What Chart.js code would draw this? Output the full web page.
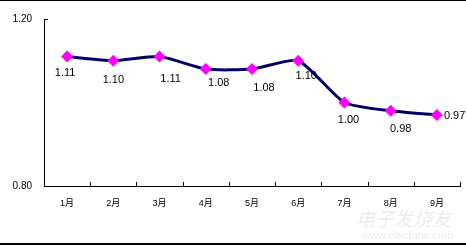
<!DOCTYPE html>
<html>
<head>
<meta charset="utf-8">
<script src="https://cdn.jsdelivr.net/npm/chart.js@4/dist/chart.umd.min.js"></script>
<style>
  html, body { margin: 0; padding: 0; background: #fff; overflow: hidden; }
  #wrap { position: relative; width: 466px; height: 245px; }
  #wrap canvas { position: absolute; left: 0; top: 0; }
  .rule { position: absolute; left: 0; width: 466px; height: 1px; background: #000; }
  .mark { position: absolute; left: 356px; top: 204px; color: #ececec; font: italic 19px 'Noto Sans CJK SC', sans-serif; }
  .mark2 { position: absolute; left: 362px; top: 229px; color: #ececec; font: 11px 'Liberation Sans', sans-serif; }
</style>
</head>
<body>
<div id="wrap">
  <canvas id="c" width="466" height="245"></canvas>
  <div class="mark">电子发烧友</div>
  <div class="mark2">www.elecfans.com</div>
  <div class="rule" style="top:0"></div>
  <div class="rule" style="top:243px;height:1.5px"></div>
</div>
<script>
const months = ['1月', '2月', '3月', '4月', '5月', '6月', '7月', '8月', '9月'];
const values = [1.11, 1.10, 1.11, 1.08, 1.08, 1.10, 1.00, 0.98, 0.97];
const yTicks = [0.80, 1.20];

// where each value label sits relative to its marker (Excel's placement)
const labelDx = [-2, 0, 11, 13, 12, 8, 4, 10, null];
const labelDy = [16, 19, 22, 14, 19, 15, 17, 18, null];

const NUM_FONT = "'Liberation Sans', Arial, sans-serif";

const innerTicks = {
  id: 'innerTicks',
  beforeDatasetsDraw(chart) {
    const { ctx, chartArea, scales: { x, y } } = chart;
    ctx.save();
    ctx.strokeStyle = '#000';
    ctx.lineWidth = 1;
    ctx.beginPath();
    const yt = Math.round(y.getPixelForValue(yTicks[1])) + 0.5;
    ctx.moveTo(chartArea.left, yt);
    ctx.lineTo(chartArea.left + 4, yt);
    for (let i = 1; i <= months.length; i++) {
      const bx = i < months.length
        ? (x.getPixelForValue(i - 1) + x.getPixelForValue(i)) / 2
        : chartArea.right;
      const px = Math.round(bx) + 0.5;
      ctx.moveTo(px, chartArea.bottom);
      ctx.lineTo(px, chartArea.bottom - 4);
    }
    ctx.stroke();

    // value labels, drawn before the line so the line passes over them
    ctx.fillStyle = '#000';
    ctx.font = '11px ' + NUM_FONT;
    ctx.textBaseline = 'middle';
    const meta = chart.getDatasetMeta(0);
    meta.data.forEach((pt, i) => {
      const txt = values[i].toFixed(2);
      if (labelDx[i] === null) {
        ctx.textAlign = 'left';
        ctx.fillText(txt, pt.x + 7, pt.y + 1);
      } else {
        ctx.textAlign = 'center';
        ctx.fillText(txt, pt.x + labelDx[i], pt.y + labelDy[i]);
      }
    });
    ctx.restore();
  }
};

new Chart(document.getElementById('c'), {
  type: 'line',
  data: {
    labels: months,
    datasets: [{
      data: values,
      borderColor: '#000066',
      borderWidth: 3,
      tension: 0.2,
      pointStyle: 'rectRot',
      pointRadius: 6,
      pointBackgroundColor: '#ff00ff',
      pointBorderColor: '#ff00ff',
      pointBorderWidth: 0,
      clip: false,
    }],
  },
  options: {
    responsive: false,
    animation: false,
    events: [],
    layout: { padding: { top: 19, right: 3, bottom: 0, left: 0 } },
    plugins: { legend: { display: false }, tooltip: { enabled: false } },
    scales: {
      x: {
        type: 'category',
        offset: true,
        grid: { drawOnChartArea: false, drawTicks: false },
        border: { color: '#000', width: 1 },
        ticks: {
          padding: 12,
          color: '#000',
          maxRotation: 0,
          font: { size: 9, family: "'Liberation Sans', 'Noto Sans CJK SC', sans-serif" },
        },
        afterFit(scale) {
          scale.height = 59;
          scale.paddingLeft = 0;
          scale.paddingRight = 0;
        },
      },
      y: {
        min: yTicks[0],
        max: yTicks[1],
        grid: { drawOnChartArea: false, drawTicks: false },
        border: { color: '#000', width: 1 },
        ticks: {
          stepSize: yTicks[1] - yTicks[0],
          padding: 12,
          color: '#000',
          font: { size: 10, family: NUM_FONT },
          callback: v => v.toFixed(2),
        },
        afterFit(scale) {
          scale.width = 44;
          scale.paddingTop = 0;
          scale.paddingBottom = 0;
        },
      },
    },
  },
  plugins: [innerTicks],
});
</script>
</body>
</html>
